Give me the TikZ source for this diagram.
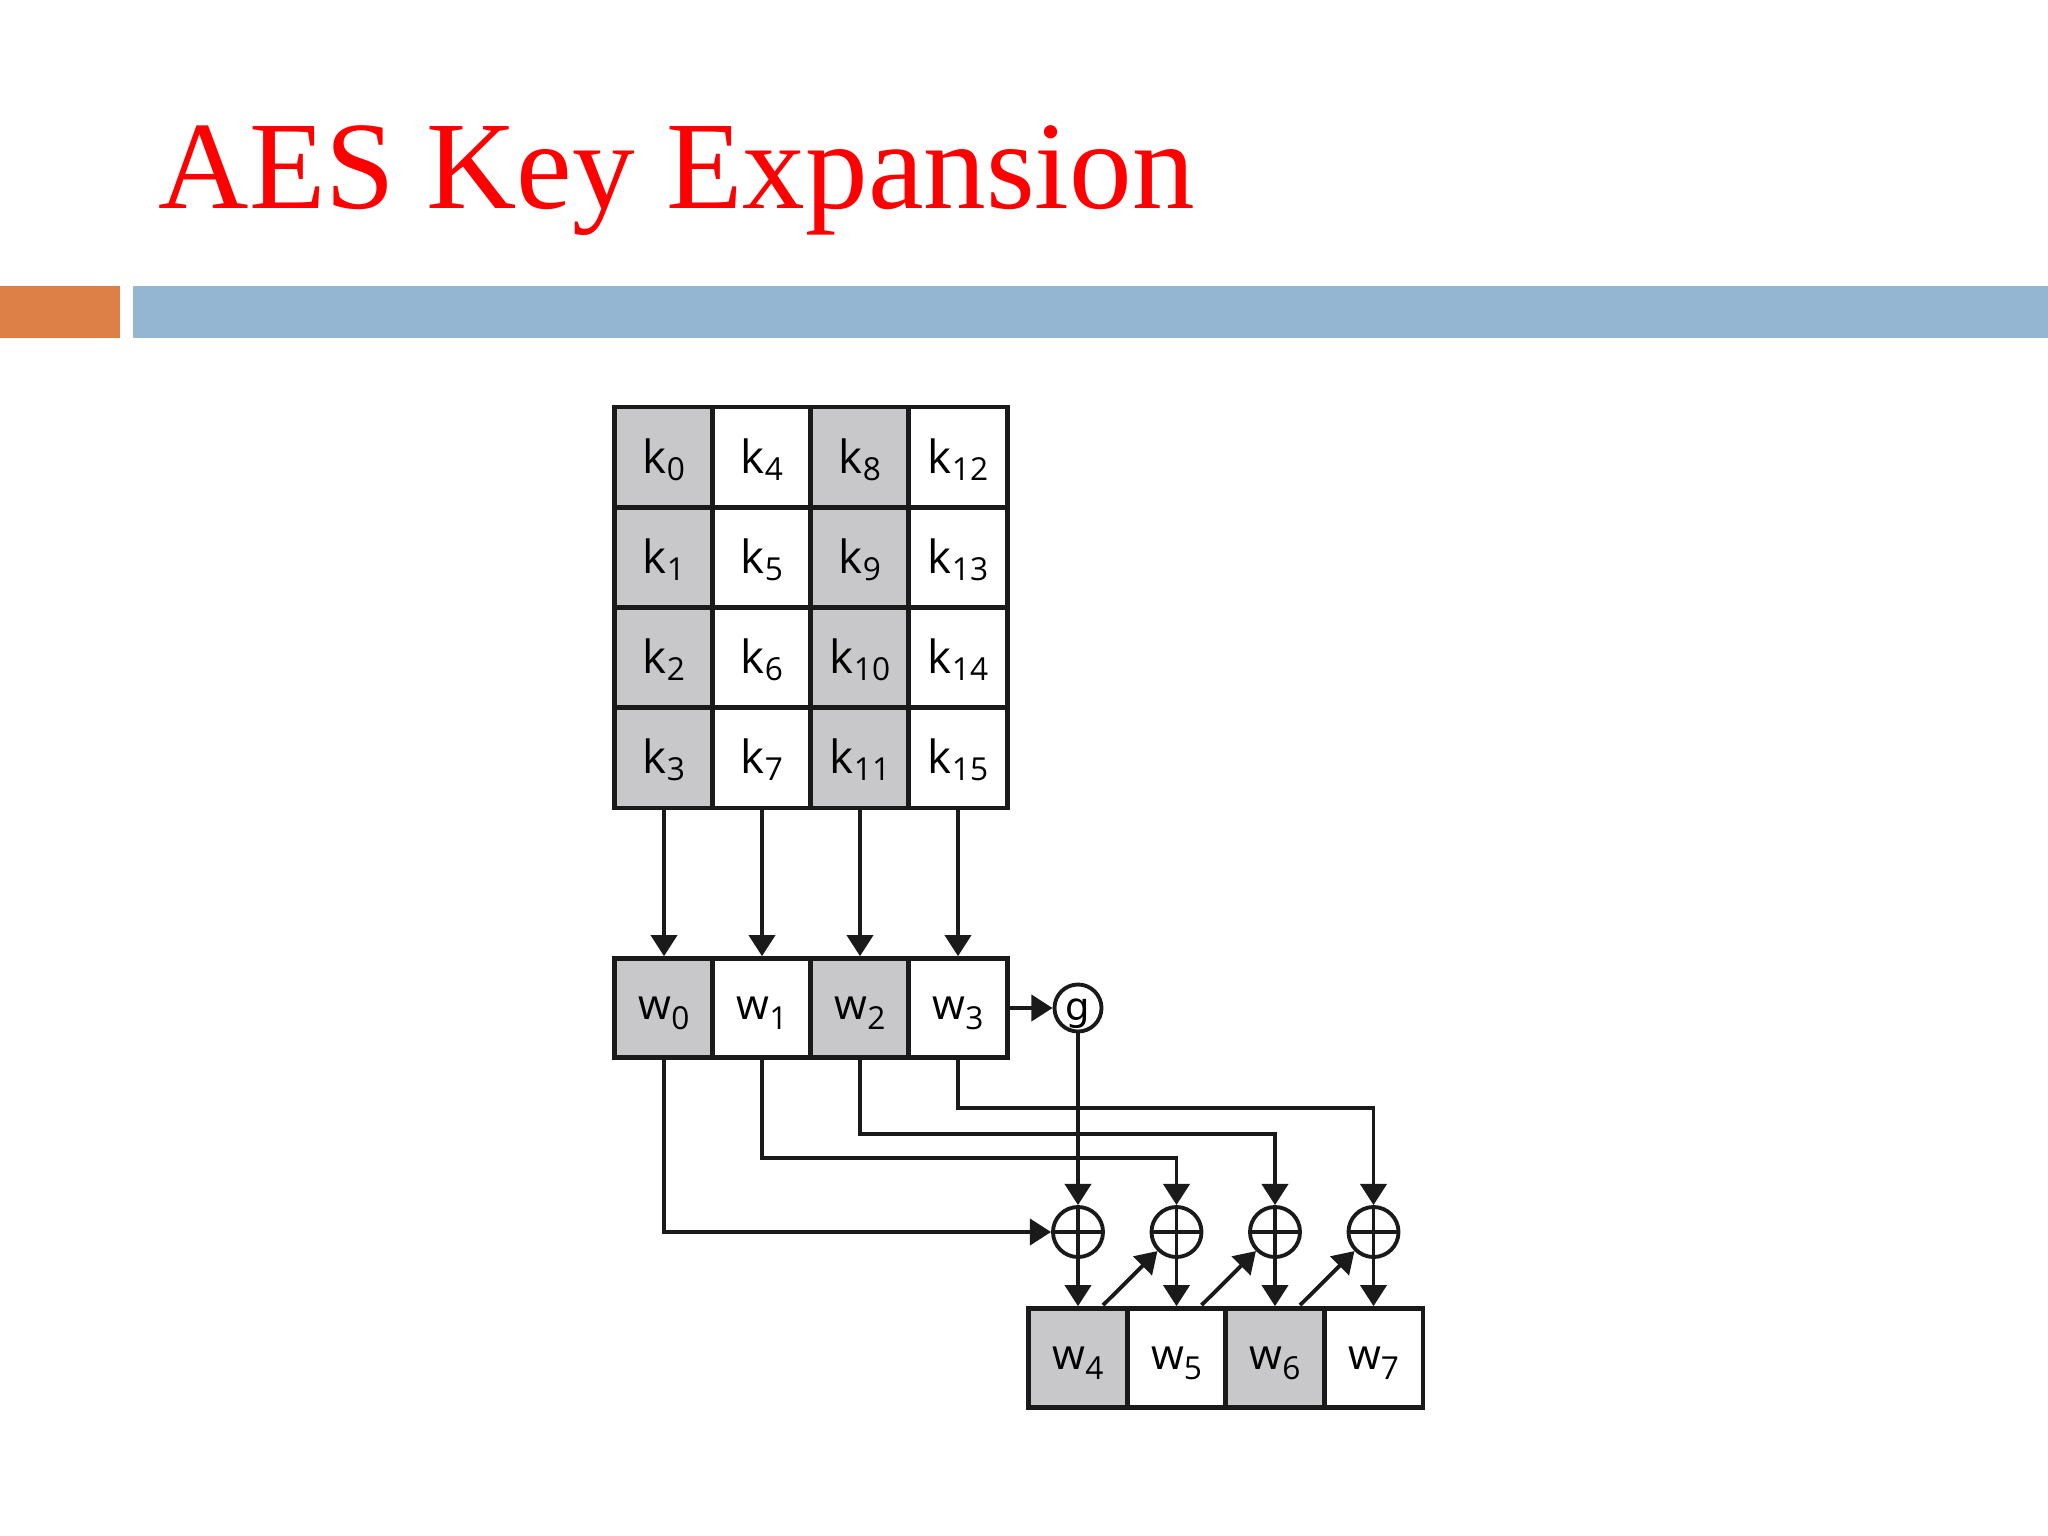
\documentclass[tikz,border=0pt]{standalone}
\usepackage{fontspec}
\setmainfont{Liberation Serif}
\newfontfamily\cellfont{Open Sans}
\newfontfamily\gfont{DejaVu Sans}
\usetikzlibrary{arrows.meta,calc}
\definecolor{barorange}{HTML}{DD8047}
\definecolor{barblue}{HTML}{94B6D2}
\definecolor{cellgray}{RGB}{200,200,202}
\definecolor{ink}{RGB}{26,26,26}
\newcommand\klab[2]{#1\raisebox{-2pt}{\fontsize{9}{9}\selectfont #2}}
\newcommand\wlab[2]{#1\raisebox{-2.8pt}{\fontsize{9}{9}\selectfont #2}}
\begin{document}
\begin{tikzpicture}[x=0.01cm,y=-0.01cm,
  cell/.style={draw=ink,line width=1.3pt,minimum width=0.985cm,minimum height=1cm,inner sep=0pt,fill=white},
  kcell/.style={cell,font=\cellfont\fontsize{13}{13}\selectfont,text height=10pt,text depth=0.9pt},
  wcell/.style={cell,minimum height=0.99cm,font=\cellfont\fontsize{12}{12}\selectfont,text height=8pt,text depth=1.2pt},
  shaded/.style={fill=cellgray},
  xorc/.style={circle,draw=ink,line width=1.1pt,minimum size=0.5cm,inner sep=0pt},
  gcirc/.style={circle,draw=ink,line width=1.1pt,minimum size=0.47cm,inner sep=0pt,text height=5.2pt,text depth=2.4pt},
  conn/.style={draw=ink,line width=1.1pt},
  arr/.style={conn,-{Triangle[length=6pt,width=7.4pt]}}]
\useasboundingbox[fill=white] (0,0) rectangle (2048,1536);
% title and bars
\node[anchor=base west,inner sep=0pt,text=red,font=\fontsize{35.6}{35.6}\selectfont] (title) at (158,208) {AES Key Expansion};
\fill[barorange] (0,286) rectangle (120,338);
\fill[barblue] (133,286) rectangle (2048,338);
% key grid
\foreach \c in {0,1,2,3}{
  \foreach \r in {0,1,2,3}{
    \pgfmathtruncatemacro\idx{\c*4+\r}
    \pgfmathsetmacro\xx{664+98*\c}
    \pgfmathsetmacro\yy{457+100.3*\r}
    \ifodd\c
      \node[kcell] (k\idx) at (\xx,\yy) {\klab{k}{\idx}};
    \else
      \node[kcell,shaded] (k\idx) at (\xx,\yy) {\klab{k}{\idx}};
    \fi
  }
}
% w row
\node[wcell,shaded] (w0) at (664,1008) {\wlab{w}{0}};
\node[wcell] (w1) at (762,1008) {\wlab{w}{1}};
\node[wcell,shaded] (w2) at (860,1008) {\wlab{w}{2}};
\node[wcell] (w3) at (958,1008) {\wlab{w}{3}};
% output row
\node[wcell,shaded] (w4) at (1078,1358) {\wlab{w}{4}};
\node[wcell] (w5) at (1176.5,1358) {\wlab{w}{5}};
\node[wcell,shaded] (w6) at (1275,1358) {\wlab{w}{6}};
\node[wcell] (w7) at (1373.5,1358) {\wlab{w}{7}};
% g and xors
\node[gcirc] (g) at (1078,1008) {\raisebox{-2.2pt}{\gfont\fontsize{11}{11}\selectfont g}};
\node[xorc] (x1) at (1078,1232) {};
\node[xorc] (x2) at (1176.5,1232) {};
\node[xorc] (x3) at (1275,1232) {};
\node[xorc] (x4) at (1373.5,1232) {};
\foreach \n in {x1,x2,x3,x4}{
  \draw[conn] (\n.north) -- (\n.south) (\n.west) -- (\n.east);
}
% key columns to words
\draw[arr] (k3.south) -- (w0.north);
\draw[arr] (k7.south) -- (w1.north);
\draw[arr] (k11.south) -- (w2.north);
\draw[arr] (k15.south) -- (w3.north);
% w3 to g to xor1
\draw[arr] (w3.east) -- (g.west);
\draw[arr] (g.south) -- (x1.north);
% routing lines
\coordinate (h3) at (0,1108);
\coordinate (h2) at (0,1134);
\coordinate (h1) at (0,1158);
\draw[arr] (w3.south) -- (w3.south |- h3) -| (x4.north);
\draw[arr] (w2.south) -- (w2.south |- h2) -| (x3.north);
\draw[arr] (w1.south) -- (w1.south |- h1) -| (x2.north);
\draw[arr] (w0.south) |- (x1.west);
% xor outputs
\draw[arr] (x1.south) -- (w4.north);
\draw[arr] (x2.south) -- (w5.north);
\draw[arr] (x3.south) -- (w6.north);
\draw[arr] (x4.south) -- (w7.north);
% chaining diagonals
\draw[arr] ($(w4.north)+(25,-1)$) -- (x2.south west);
\draw[arr] ($(w5.north)+(25,-1)$) -- (x3.south west);
\draw[arr] ($(w6.north)+(25,-1)$) -- (x4.south west);
\end{tikzpicture}
\end{document}
